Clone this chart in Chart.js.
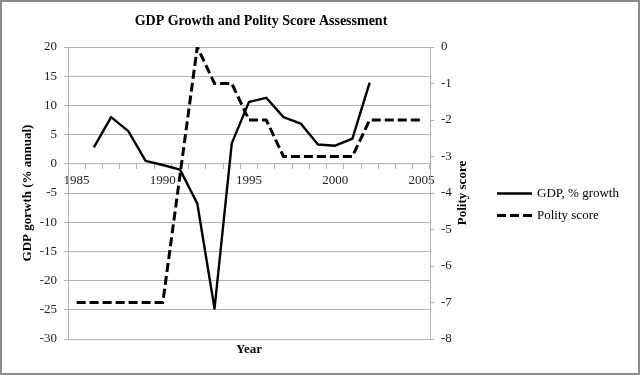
<!DOCTYPE html>
<html>
<head>
<meta charset="utf-8">
<script src="https://cdn.jsdelivr.net/npm/chart.js@4/dist/chart.umd.min.js"></script>
<style>
  html, body { margin: 0; padding: 0; background: #fff; }
  #wrap { width: 640px; height: 375px; position: relative; }
</style>
</head>
<body>
<div id="wrap"><canvas id="chart"></canvas></div>
<script>
const years = ['1985', '1986', '1987', '1988', '1989', '1990', '1991', '1992', '1993', '1994', '1995',
  '1996', '1997', '1998', '1999', '2000', '2001', '2002', '2003', '2004', '2005'];
const gdpGrowth = [null, 2.8, 8.0, 5.6, 0.5, -0.2, -1.0, -6.8, -24.8, 3.5, 10.6,
  11.3, 8.0, 6.9, 3.3, 3.1, 4.3, 13.9, null, null, null];
const polityScore = [-7, -7, -7, -7, -7, -7, -3.5, 0, -1, -1, -2,
  -2, -3, -3, -3, -3, -3, -2, -2, -2, -2];

const serif = '"Liberation Serif", "Times New Roman", serif';
const gridGray = '#b3b3b3';

// titles, legend and outer frame drawn on top
// (the built-in right legend gets squeezed to a sixth of the width, so it is drawn here)
const extraText = {
  id: 'extraText',
  afterDraw(chart) {
    const c = chart.ctx;
    const area = chart.chartArea;
    const midY = (area.top + area.bottom) / 2;
    c.save();
    c.fillStyle = '#000';
    c.textAlign = 'center';
    c.textBaseline = 'middle';
    c.font = 'bold 14px ' + serif;
    c.fillText('GDP Growth and Polity Score Assessment', 261, 21);
    c.font = 'bold 13px ' + serif;
    c.fillText('Year', (area.left + area.right) / 2, 350);
    c.translate(28, midY);
    c.rotate(-Math.PI / 2);
    c.fillText('GDP gorwth (% annual)', 0, 0);
    c.restore();

    c.save();
    c.fillStyle = '#000';
    c.textAlign = 'center';
    c.textBaseline = 'middle';
    c.font = 'bold 13px ' + serif;
    c.translate(463, midY);
    c.rotate(-Math.PI / 2);
    c.fillText('Polity score', 0, 0);
    c.restore();

    // legend
    c.save();
    c.font = '13px ' + serif;
    c.textAlign = 'left';
    c.textBaseline = 'middle';
    chart.data.datasets.forEach((ds, i) => {
      const y = midY + 0.5 + i * 22;
      c.beginPath();
      c.setLineDash(ds.borderDash || []);
      c.lineWidth = ds.borderWidth;
      c.strokeStyle = ds.borderColor;
      c.moveTo(497, y);
      c.lineTo(532, y);
      c.stroke();
      c.fillStyle = '#000';
      c.fillText(ds.label, 537, y);
    });
    c.restore();

    c.save();
    c.strokeStyle = '#8c8c8c';
    c.lineWidth = 2;
    c.strokeRect(1, 1, 638, 373);
    c.restore();
  }
};

const ctx = document.getElementById('chart').getContext('2d');
const chart = new Chart(ctx, {
  type: 'line',
  data: {
    labels: years,
    datasets: [{
      label: 'GDP, % growth',
      data: gdpGrowth,
      yAxisID: 'y',
      borderColor: '#000',
      backgroundColor: '#000',
      borderWidth: 2.4,
      borderJoinStyle: 'round',
      pointRadius: 0,
      tension: 0,
      fill: false
    }, {
      label: 'Polity score',
      data: polityScore,
      yAxisID: 'y1',
      borderColor: '#000',
      backgroundColor: '#000',
      borderWidth: 3,
      borderDash: [9, 4],
      borderJoinStyle: 'round',
      pointRadius: 0,
      tension: 0,
      fill: false
    }]
  },
  options: {
    responsive: true,
    maintainAspectRatio: false,
    animation: false,
    layout: { padding: { left: 0, top: 47, right: 153, bottom: 36 } },
    scales: {
      x: {
        type: 'category',
        offset: true,
        position: { y: 0 },
        grid: { drawOnChartArea: false, offset: true, tickLength: 5, color: gridGray },
        border: { display: true, color: gridGray },
        ticks: {
          autoSkip: false,
          maxRotation: 0,
          padding: 4,
          color: '#222',
          font: { family: serif, size: 13 },
          callback: (val, i) => (Number(years[i]) % 5 === 0 ? years[i] : '')
        }
      },
      y: {
        position: 'left',
        min: -30,
        max: 20,
        ticks: { stepSize: 5, padding: 7, color: '#222', font: { family: serif, size: 13 } },
        grid: { color: gridGray, tickLength: 4 },
        border: { display: true, color: gridGray },
        afterFit(scale) { scale.width = 68; }
      },
      y1: {
        position: 'right',
        min: -8,
        max: 0,
        ticks: { stepSize: 1, padding: 7, color: '#222', font: { family: serif, size: 13 } },
        grid: { drawOnChartArea: false, color: gridGray, tickLength: 4 },
        border: { display: true, color: gridGray },
        afterFit(scale) { scale.width = 57; }
      }
    },
    plugins: {
      title: { display: false },
      tooltip: { enabled: false },
      legend: { display: false }
    }
  },
  plugins: [extraText]
});
</script>
</body>
</html>
